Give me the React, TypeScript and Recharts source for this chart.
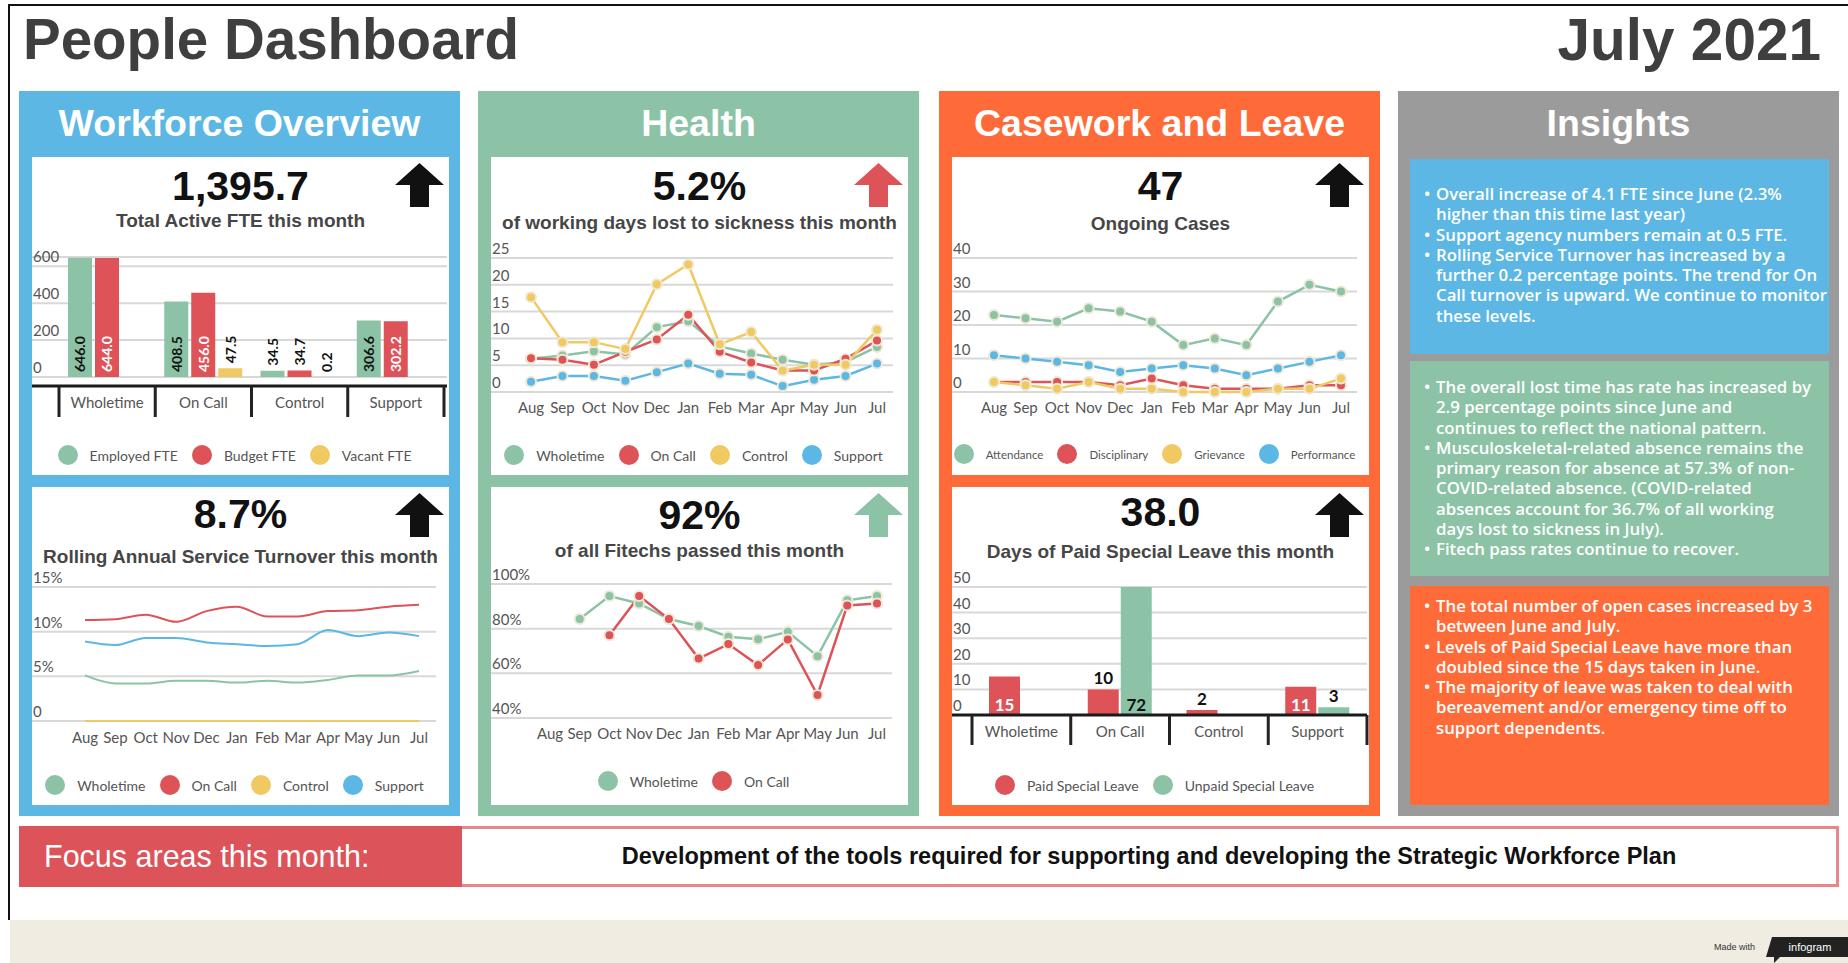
import { BarChart, Bar, LineChart, Line, XAxis, YAxis, CartesianGrid, LabelList } from "recharts";

const SANS = '"Liberation Sans", Arial, sans-serif';
const LATO = 'Lato, "Open Sans", sans-serif';
const BODY = '"Open Sans", Lato, sans-serif';

const GREEN = "#8cc3a6";
const RED = "#de5358";
const YELLOW = "#f1c962";
const BLUE = "#5db7e5";
const ORANGE = "#ff6b38";
const GREY = "#9b9b9b";
const TEXT = "#555";
const GRID = "#d8d8d8";
const HALO = "#efe9d4";

const CARD_W = 417;
const CARD_H = 318;

const months = ["Aug", "Sep", "Oct", "Nov", "Dec", "Jan", "Feb", "Mar", "Apr", "May", "Jun", "Jul"];
const staffGroups = ["Wholetime", "On Call", "Control", "Support"];

// total active FTE
const employedFte = [646.0, 408.5, 34.5, 306.6];
const budgetFte = [644.0, 456.0, 34.7, 302.2];
const vacantFte = [null, 47.5, 0.2, null];
const fteTicks = [0, 200, 400, 600];

// rolling turnover (%)
const turnoverWholetime = [5.1, 4.2, 4.2, 4.5, 4.5, 4.3, 4.5, 4.3, 4.6, 5.1, 5.1, 5.6];
const turnoverOnCall = [11.3, 11.4, 11.9, 11.1, 12.3, 12.8, 11.7, 11.7, 12.3, 12.4, 12.8, 13.0];
const turnoverControl = [0, 0, 0, 0, 0, 0, 0, 0, 0, 0, 0, 0];
const turnoverSupport = [8.9, 8.5, 9.3, 9.3, 8.8, 8.6, 8.4, 8.6, 10.2, 9.5, 9.9, 9.5];
const turnoverTicks = [0, 5, 10, 15];

// working days lost to sickness (%)
const sickWholetime = [6.2, 6.8, 7.6, 7.0, 12.1, 13.2, 8.5, 7.2, 6.0, 5.1, 5.6, 8.4];
const sickOnCall = [6.3, 6.0, 5.1, 7.5, 9.8, 14.4, 7.5, 5.5, 4.0, 4.0, 6.2, 9.6];
const sickControl = [17.7, 9.3, 9.3, 8.0, 20.1, 23.8, 8.9, 11.2, 4.0, 5.1, 5.1, 11.6];
const sickSupport = [1.9, 3.0, 3.0, 2.1, 3.7, 5.3, 3.4, 3.2, 1.1, 2.3, 3.0, 5.3];
const sickTicks = [0, 5, 10, 15, 20, 25];

// fitech pass rate (%)
const fitechWholetime = [null, 84.3, 94.6, 91.3, 84.3, 81.2, 76.4, 75.3, 78.6, 67.7, 92.7, 94.6];
const fitechOnCall = [null, null, 77.1, 94.6, 84.3, 66.6, 73.1, 63.7, 75.2, 50.3, 90.4, 91.3];
const fitechTicks = [40, 60, 80, 100];

// ongoing cases
const casesAttendance = [23, 22, 21, 25, 24, 21, 14, 16, 14, 27, 32, 30];
const casesDisciplinary = [3, 3, 3, 3, 2, 4, 2, 1, 1, 1, 2, 2];
const casesGrievance = [3, 2, 1, 3, 1, 1, 0, 0, 0, 1, 1, 4];
const casesPerformance = [11, 10, 9, 8, 6, 7, 8, 7, 5, 7, 9, 11];
const casesTicks = [0, 10, 20, 30, 40];

// special leave days
const paidLeave = [15, 10, 2, 11];
const unpaidLeave = [null, 72, null, 3];
const leaveTicks = [0, 10, 20, 30, 40, 50];

type Series = { name: string; color: string; values: (number | null)[]; labelFill?: string };

const fteSeries: Series[] = [
  { name: "Employed FTE", color: GREEN, values: employedFte, labelFill: "#111" },
  { name: "Budget FTE", color: RED, values: budgetFte, labelFill: "#fff" },
  { name: "Vacant FTE", color: YELLOW, values: vacantFte, labelFill: "#111" },
];
const turnoverSeries: Series[] = [
  { name: "Wholetime", color: GREEN, values: turnoverWholetime },
  { name: "On Call", color: RED, values: turnoverOnCall },
  { name: "Control", color: YELLOW, values: turnoverControl },
  { name: "Support", color: BLUE, values: turnoverSupport },
];
const sicknessSeries: Series[] = [
  { name: "Wholetime", color: GREEN, values: sickWholetime },
  { name: "On Call", color: RED, values: sickOnCall },
  { name: "Control", color: YELLOW, values: sickControl },
  { name: "Support", color: BLUE, values: sickSupport },
];
const fitechSeries: Series[] = [
  { name: "Wholetime", color: GREEN, values: fitechWholetime },
  { name: "On Call", color: RED, values: fitechOnCall },
];
const casesSeries: Series[] = [
  { name: "Attendance", color: GREEN, values: casesAttendance },
  { name: "Disciplinary", color: RED, values: casesDisciplinary },
  { name: "Grievance", color: YELLOW, values: casesGrievance },
  { name: "Performance", color: BLUE, values: casesPerformance },
];
const leaveSeries: Series[] = [
  { name: "Paid Special Leave", color: RED, values: paidLeave, labelFill: "#fff" },
  { name: "Unpaid Special Leave", color: GREEN, values: unpaidLeave, labelFill: "#111" },
];

const workforceNotes = [
  ["Overall increase of 4.1 FTE since June (2.3%", "higher than this time last year)"],
  ["Support agency numbers remain at 0.5 FTE."],
  [
    "Rolling Service Turnover has increased by a",
    "further 0.2 percentage points. The trend for On",
    "Call turnover is upward. We continue to monitor",
    "these levels.",
  ],
];
const healthNotes = [
  ["The overall lost time has rate has increased by", "2.9 percentage points since June and", "continues to reflect the national pattern."],
  [
    "Musculoskeletal-related absence remains the",
    "primary reason for absence at 57.3% of non-",
    "COVID-related absence. (COVID-related",
    "absences account for 36.7% of all working",
    "days lost to sickness in July).",
  ],
  ["Fitech pass rates continue to recover."],
];
const caseworkNotes = [
  ["The total number of open cases increased by 3", "between June and July."],
  ["Levels of Paid Special Leave have more than", "doubled since the 15 days taken in June."],
  ["The majority of leave was taken to deal with", "bereavement and/or emergency time off to", "support dependents."],
];

const rowsFrom = (cats: string[], series: Series[]) =>
  cats.map((c, i) => {
    const row: any = { cat: c };
    series.forEach((s) => (row[s.name] = s.values[i]));
    return row;
  });

const ValueTick = ({ y, payload, fmt }: any) => (
  <text x={1} y={y - 10} fill={TEXT} fontFamily={LATO} fontSize={15} dominantBaseline="central">
    {fmt ? fmt(payload.value) : payload.value}
  </text>
);

const MonthTick = ({ x, y, payload, dy }: any) => (
  <text x={x} y={y + dy} textAnchor="middle" dominantBaseline="central" fill={TEXT} fontFamily={LATO} fontSize={15}>
    {payload.value}
  </text>
);

const GroupTick = ({ x, y, payload, index, band, len, count }: any) => (
  <g>
    <line x1={x - band / 2} x2={x - band / 2} y1={y} y2={y + len} stroke="#222" strokeWidth={3} />
    {index === count - 1 && <line x1={x + band / 2} x2={x + band / 2} y1={y} y2={y + len} stroke="#222" strokeWidth={3} />}
    <text x={x} y={y + 16} textAnchor="middle" dominantBaseline="central" fill={TEXT} fontFamily={LATO} fontSize={15}>
      {payload.value}
    </text>
  </g>
);

const boxOf = (p: any) => {
  const vb = p.viewBox || p;
  return { x: vb.x ?? p.x, y: vb.y ?? p.y, width: vb.width ?? p.width, height: vb.height ?? p.height };
};

const verticalLabel = (fill: string) => (p: any) => {
  if (p.value == null) return null;
  const { x, y, width, height } = boxOf(p);
  const cx = x + width / 2;
  const inside = height > 40;
  const ty = inside ? y + height - 5 : y - 5;
  return (
    <text
      x={cx}
      y={ty}
      transform={`rotate(-90 ${cx} ${ty})`}
      dominantBaseline="central"
      fill={inside ? fill : "#111"}
      fontFamily={LATO}
      fontWeight={700}
      fontSize={14}
    >
      {Number(p.value).toFixed(1)}
    </text>
  );
};

const flatLabel = (fill: string) => (p: any) => {
  if (p.value == null) return null;
  const { x, y, width, height } = boxOf(p);
  const inside = height > 27;
  return (
    <text
      x={x + width / 2}
      y={inside ? y + height - 4 : y - 5}
      textAnchor="middle"
      fill={inside ? fill : "#111"}
      fontFamily={LATO}
      fontWeight={700}
      fontSize={17}
    >
      {p.value}
    </text>
  );
};

function TrendChart({ series, order, ticks, domain, fmt, top, bottomY, right, padL, padR, labelDy, dots, curve, strokeW }: any) {
  const data = rowsFrom(months, series);
  return (
    <div style={{ position: "absolute", left: 0, top: 0 }}>
      <LineChart width={CARD_W} height={CARD_H} data={data} margin={{ top, right, bottom: CARD_H - bottomY - 40, left: 0 }}>
        <CartesianGrid vertical={false} stroke={GRID} strokeWidth={2} />
        <XAxis
          dataKey="cat"
          scale="point"
          height={40}
          padding={{ left: padL, right: padR }}
          axisLine={false}
          tickLine={false}
          tickSize={0}
          tickMargin={0}
          interval={0}
          tick={<MonthTick dy={labelDy} />}
        />
        <YAxis
          type="number"
          domain={domain}
          ticks={ticks}
          interval={0}
          width={1}
          mirror
          axisLine={false}
          tickLine={false}
          tickSize={0}
          tickMargin={0}
          tick={<ValueTick fmt={fmt} />}
        />
        {order.map((i: number) => {
          const s = series[i];
          return (
            <Line
              key={s.name}
              dataKey={s.name}
              type={curve}
              stroke={s.color}
              strokeWidth={strokeW}
              dot={dots ? { r: 5, fill: s.color, stroke: HALO, strokeWidth: 2 } : false}
              activeDot={false}
              isAnimationActive={false}
            />
          );
        })}
      </LineChart>
    </div>
  );
}

function GroupBars({ series, ticks, domain, top, bottomY, right, padL, padR, barSize, barGap, tickLen, label }: any) {
  const data = rowsFrom(staffGroups, series);
  const band = (CARD_W - right - padL - padR) / staffGroups.length;
  return (
    <div style={{ position: "absolute", left: 0, top: 0 }}>
      <BarChart
        width={CARD_W}
        height={CARD_H}
        data={data}
        margin={{ top, right, bottom: CARD_H - bottomY - 40, left: 0 }}
        barSize={barSize}
        barGap={barGap}
      >
        <CartesianGrid vertical={false} stroke={GRID} strokeWidth={2} />
        <XAxis
          dataKey="cat"
          height={40}
          padding={{ left: padL, right: padR }}
          axisLine={{ stroke: "#1a1a1a", strokeWidth: 3 }}
          tickLine={false}
          tickSize={0}
          tickMargin={0}
          interval={0}
          tick={<GroupTick band={band} len={tickLen} count={staffGroups.length} />}
        />
        <YAxis
          type="number"
          domain={domain}
          ticks={ticks}
          interval={0}
          allowDataOverflow
          width={1}
          mirror
          axisLine={false}
          tickLine={false}
          tickSize={0}
          tickMargin={0}
          tick={<ValueTick />}
        />
        {series.map((s: Series) => (
          <Bar key={s.name} dataKey={s.name} fill={s.color} isAnimationActive={false}>
            <LabelList dataKey={s.name} content={label(s.labelFill)} />
          </Bar>
        ))}
      </BarChart>
    </div>
  );
}

function Legend({ series, y, fontSize = 14 }: { series: Series[]; y: number; fontSize?: number }) {
  return (
    <div
      style={{
        position: "absolute",
        left: 0,
        top: y - 10,
        width: CARD_W - 12,
        height: 20,
        display: "flex",
        justifyContent: "center",
        alignItems: "center",
        gap: 14,
      }}
    >
      {series.map((s) => (
        <div key={s.name} style={{ display: "flex", alignItems: "center" }}>
          <span style={{ width: 20, height: 20, borderRadius: 10, background: s.color, marginRight: 12 }} />
          <span style={{ fontFamily: LATO, fontSize, color: TEXT, whiteSpace: "nowrap" }}>{s.name}</span>
        </div>
      ))}
    </div>
  );
}

const Arrow = ({ color }: { color: string }) => (
  <svg width={50} height={45} style={{ position: "absolute", left: 363, top: 6 }}>
    <polygon points="24.5,0 49,22 34,22 34,44 15,44 15,22 0,22" fill={color} />
  </svg>
);

function Card({ top, kpi, kpiY, sub, subY, arrow, children }: any) {
  return (
    <div style={{ position: "absolute", left: 13, top, width: CARD_W, height: CARD_H, background: "#fff" }}>
      {children}
      <div
        style={{
          position: "absolute",
          left: 0,
          top: kpiY - 21,
          width: CARD_W,
          fontSize: 41,
          lineHeight: "41px",
          fontWeight: 700,
          color: "#111",
          textAlign: "center",
        }}
      >
        {kpi}
      </div>
      <Arrow color={arrow} />
      <div
        style={{
          position: "absolute",
          left: 0,
          top: subY - 11,
          width: CARD_W,
          fontSize: 19,
          lineHeight: "22px",
          fontWeight: 700,
          color: "#464646",
          textAlign: "center",
          whiteSpace: "nowrap",
        }}
      >
        {sub}
      </div>
    </div>
  );
}

function Panel({ x, color, title, children }: any) {
  return (
    <div style={{ position: "absolute", left: x, top: 91, width: 441, height: 725, background: color }}>
      <div
        style={{
          position: "absolute",
          left: 0,
          top: 13,
          width: 441,
          textAlign: "center",
          fontSize: 37.5,
          lineHeight: "38px",
          fontWeight: 700,
          color: "#fff",
          whiteSpace: "nowrap",
        }}
      >
        {title}
      </div>
      {children}
    </div>
  );
}

function NoteBox({ top, height, color, notes, padTop }: any) {
  return (
    <div style={{ position: "absolute", left: 12, top, width: 419, height, background: color }}>
      <div style={{ position: "absolute", left: 0, top: padTop }}>
        {notes.map((lines: string[], i: number) =>
          lines.map((ln, j) => (
            <div
              key={`${i}-${j}`}
              style={{
                position: "relative",
                height: 20.3,
                lineHeight: "20.3px",
                paddingLeft: 26,
                whiteSpace: "nowrap",
                color: "#fff",
                fontFamily: BODY,
                fontSize: 16.8,
                fontWeight: 600,
              }}
            >
              {j === 0 && <span style={{ position: "absolute", left: 14 }}>•</span>}
              {ln}
            </div>
          ))
        )}
      </div>
    </div>
  );
}

export default function App() {
  return (
    <div
      style={{
        position: "absolute",
        left: 0,
        top: 0,
        width: 1848,
        height: 963,
        background: "#fff",
        overflow: "hidden",
        fontFamily: SANS,
      }}
    >
      <div style={{ position: "absolute", left: 9, top: 4, width: 1839, height: 2, background: "#111" }} />
      <div style={{ position: "absolute", left: 8, top: 4, width: 2, height: 916, background: "#111" }} />

      <div style={{ position: "absolute", left: 23, top: 11, fontSize: 56.5, lineHeight: "57px", fontWeight: 700, color: "#3f3f3f" }}>
        People Dashboard
      </div>
      <div style={{ position: "absolute", right: 27, top: 11, fontSize: 58.5, lineHeight: "57px", fontWeight: 700, color: "#3f3f3f" }}>
        July 2021
      </div>

      <Panel x={19} color={BLUE} title="Workforce Overview">
        <Card top={66} kpi="1,395.7" kpiY={30} sub="Total Active FTE this month" subY={64} arrow="#111">
          <GroupBars
            series={fteSeries}
            ticks={fteTicks}
            domain={[-48.6, 650]}
            top={100}
            bottomY={229}
            right={2}
            padL={27}
            padR={3}
            barSize={24}
            barGap={3}
            tickLen={31}
            label={verticalLabel}
          />
          <Legend series={fteSeries} y={298} />
        </Card>
        <Card top={396} kpi="8.7%" kpiY={28} sub="Rolling Annual Service Turnover this month" subY={70} arrow="#111">
          <TrendChart
            series={turnoverSeries}
            order={[2, 0, 3, 1]}
            ticks={turnoverTicks}
            domain={[0, 15]}
            fmt={(v: number) => (v === 0 ? "0" : `${v}%`)}
            top={100}
            bottomY={234}
            right={13}
            padL={53}
            padR={17}
            labelDy={16}
            dots={false}
            curve="monotone"
            strokeW={2}
          />
          <Legend series={turnoverSeries} y={298} />
        </Card>
      </Panel>

      <Panel x={478} color={GREEN} title="Health">
        <Card top={66} kpi="5.2%" kpiY={30} sub="of working days lost to sickness this month" subY={66} arrow={RED}>
          <TrendChart
            series={sicknessSeries}
            order={[3, 0, 1, 2]}
            ticks={sickTicks}
            domain={[0, 25]}
            top={101}
            bottomY={235}
            right={15}
            padL={40}
            padR={16}
            labelDy={15}
            dots
            curve="linear"
            strokeW={2.5}
          />
          <Legend series={sicknessSeries} y={298} />
        </Card>
        <Card top={396} kpi="92%" kpiY={29} sub="of all Fitechs passed this month" subY={64} arrow={GREEN}>
          <TrendChart
            series={fitechSeries}
            order={[0, 1]}
            ticks={fitechTicks}
            domain={[40, 100]}
            fmt={(v: number) => `${v}%`}
            top={97}
            bottomY={231}
            right={16}
            padL={59}
            padR={15}
            labelDy={15}
            dots
            curve="linear"
            strokeW={2.5}
          />
          <Legend series={fitechSeries} y={294} />
        </Card>
      </Panel>

      <Panel x={939} color={ORANGE} title="Casework and Leave">
        <Card top={66} kpi="47" kpiY={30} sub="Ongoing Cases" subY={67} arrow="#111">
          <TrendChart
            series={casesSeries}
            order={[0, 3, 1, 2]}
            ticks={casesTicks}
            domain={[0, 40]}
            top={101}
            bottomY={235}
            right={12}
            padL={42}
            padR={16}
            labelDy={15}
            dots
            curve="linear"
            strokeW={2.5}
          />
          <Legend series={casesSeries} y={297} fontSize={11.5} />
        </Card>
        <Card top={396} kpi="38.0" kpiY={26} sub="Days of Paid Special Leave this month" subY={65} arrow="#111">
          <GroupBars
            series={leaveSeries}
            ticks={leaveTicks}
            domain={[0, 50]}
            top={100}
            bottomY={228}
            right={2}
            padL={20}
            padR={0}
            barSize={31}
            barGap={2}
            tickLen={30}
            label={flatLabel}
          />
          <Legend series={leaveSeries} y={298} />
        </Card>
      </Panel>

      <Panel x={1398} color={GREY} title="Insights">
        <NoteBox top={68} height={195} color={BLUE} notes={workforceNotes} padTop={25} />
        <NoteBox top={270} height={215} color={GREEN} notes={healthNotes} padTop={16} />
        <NoteBox top={495} height={219} color={ORANGE} notes={caseworkNotes} padTop={10} />
      </Panel>

      <div style={{ position: "absolute", left: 19, top: 826, width: 443, height: 61, background: "#dc5359" }}>
        <div style={{ position: "absolute", left: 25, top: 15, fontSize: 30.5, lineHeight: "30px", color: "#fff", whiteSpace: "nowrap" }}>
          Focus areas this month:
        </div>
      </div>
      <div
        style={{
          position: "absolute",
          left: 462,
          top: 826,
          width: 1377,
          height: 61,
          boxSizing: "border-box",
          border: "3px solid #e8868a",
          borderLeft: "none",
          background: "#fff",
          display: "flex",
          alignItems: "center",
          justifyContent: "center",
          fontSize: 23.5,
          fontWeight: 700,
          color: "#111",
          whiteSpace: "nowrap",
        }}
      >
        Development of the tools required for supporting and developing the Strategic Workforce Plan
      </div>

      <div style={{ position: "absolute", left: 10, top: 920, width: 1838, height: 43, background: "#f0ece1" }} />
      <div style={{ position: "absolute", left: 1714, top: 942, fontSize: 9, lineHeight: "10px", color: "#333", fontFamily: SANS }}>
        Made with
      </div>
      <svg width={84} height={28} style={{ position: "absolute", left: 1766, top: 935 }}>
        <polygon points="6,2 84,2 84,22 14,22 8,28 8,22 0,22" fill="#222" />
        <text x={44} y={12} textAnchor="middle" dominantBaseline="central" fill="#fff" fontSize={11} fontFamily={SANS}>
          infogram
        </text>
      </svg>
    </div>
  );
}
